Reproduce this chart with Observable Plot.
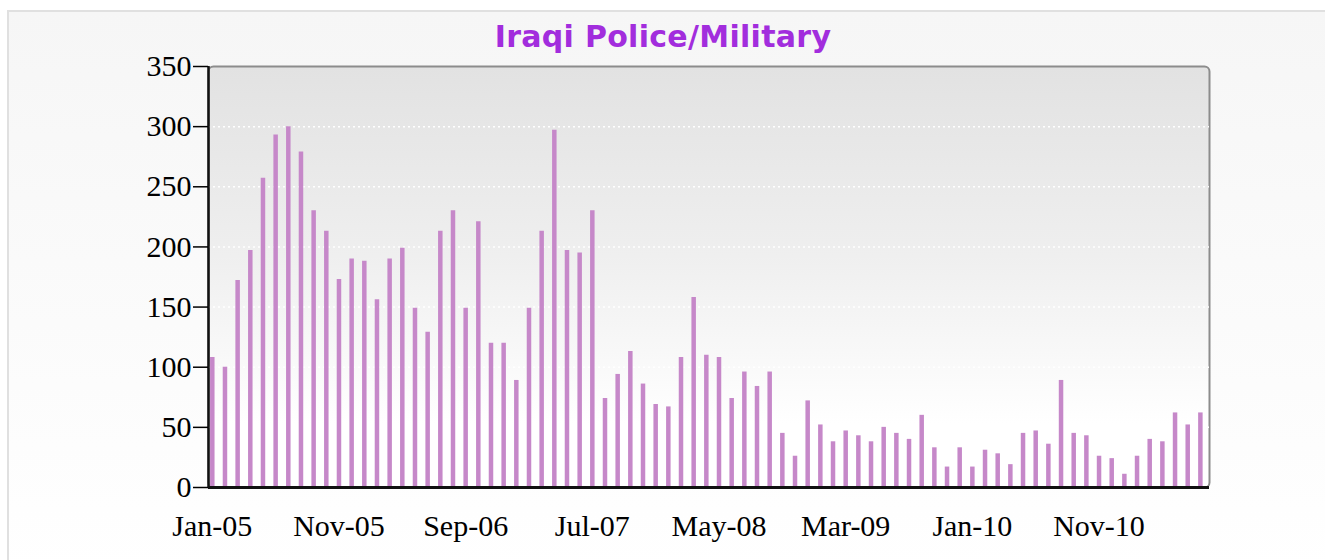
<!DOCTYPE html>
<html>
<head>
<meta charset="utf-8">
<script src="https://cdn.jsdelivr.net/npm/d3@7"></script>
<script src="https://cdn.jsdelivr.net/npm/@observablehq/plot@0.6"></script>
<style>
  html, body { margin: 0; padding: 0; background: #ffffff; }
  #wrap { position: relative; width: 1325px; height: 560px; overflow: hidden; }
  #panel { position: absolute; left: 7px; top: 10px; width: 1330px; height: 560px;
           border-left: 2px solid #e0e0e0; border-top: 2px solid #e0e0e0;
           background: linear-gradient(#f6f6f6, #ffffff); }
  #title { position: absolute; left: 0; width: 1326px; top: 19px; text-align: center;
           font-family: "DejaVu Sans", Verdana, sans-serif; font-weight: bold; font-size: 30px;
           letter-spacing: 0.3px; color: #a22ddd; }
  #chart { position: absolute; left: 0; top: 0; }
</style>
</head>
<body>
<div id="wrap">
  <div id="panel"></div>
  <div id="title">Iraqi Police/Military</div>
  <div id="chart"></div>
</div>
<script>
const months = [
  "Jan-05","Feb-05","Mar-05","Apr-05","May-05","Jun-05","Jul-05","Aug-05","Sep-05","Oct-05","Nov-05","Dec-05",
  "Jan-06","Feb-06","Mar-06","Apr-06","May-06","Jun-06","Jul-06","Aug-06","Sep-06","Oct-06","Nov-06","Dec-06",
  "Jan-07","Feb-07","Mar-07","Apr-07","May-07","Jun-07","Jul-07","Aug-07","Sep-07","Oct-07","Nov-07","Dec-07",
  "Jan-08","Feb-08","Mar-08","Apr-08","May-08","Jun-08","Jul-08","Aug-08","Sep-08","Oct-08","Nov-08","Dec-08",
  "Jan-09","Feb-09","Mar-09","Apr-09","May-09","Jun-09","Jul-09","Aug-09","Sep-09","Oct-09","Nov-09","Dec-09",
  "Jan-10","Feb-10","Mar-10","Apr-10","May-10","Jun-10","Jul-10","Aug-10","Sep-10","Oct-10","Nov-10","Dec-10",
  "Jan-11","Feb-11","Mar-11","Apr-11","May-11","Jun-11","Jul-11"
];
const deaths = [
  108,100,172,197,257,293,300,279,230,213,173,190,
  188,156,190,199,149,129,213,230,149,221,120,120,
  89,149,213,297,197,195,230,74,94,113,86,69,
  67,108,158,110,108,74,96,84,96,45,26,72,
  52,38,47,43,38,50,45,40,60,33,17,33,
  17,31,28,19,45,47,36,89,45,43,26,24,
  11,26,40,38,62,52,62
];
const xTickLabels = ["Jan-05","Nov-05","Sep-06","Jul-07","May-08","Mar-09","Jan-10","Nov-10"];
const yTicks = [0,50,100,150,200,250,300,350];
const gridValues = [50,100,150,200,250,300];

const data = months.map((m, i) => ({i, month: m, value: deaths[i]}));
const xDomain = [-0.3, months.length - 0.28];
const xTicks = xTickLabels.map(l => months.indexOf(l));

const chart = Plot.plot({
  width: 1325,
  height: 560,
  marginLeft: 208,
  marginRight: 116,
  marginTop: 66,
  marginBottom: 73,
  style: {background: "transparent", fontFamily: "'Liberation Serif', 'Times New Roman', serif", fontSize: "30px", color: "black", overflow: "visible"},
  x: {type: "linear", domain: xDomain},
  y: {domain: [0, 350]},
  marks: [
    Plot.frame({fill: "url(#plotbg)", stroke: "#8c8c8c", strokeWidth: 2, rx: 5}),
    Plot.ruleY(gridValues, {stroke: "#ffffff", strokeWidth: 1.5, strokeDasharray: "2,3"}),
    Plot.ruleX(data, {x: "i", y1: 0, y2: "value", stroke: "#c688c9", strokeWidth: 4.5}),
    Plot.ruleX([xDomain[0]], {stroke: "#111", strokeWidth: 2.5}),
    Plot.ruleY([0], {stroke: "#111", strokeWidth: 3}),
    Plot.axisY({ticks: yTicks, tickSize: 15, tickPadding: 2, strokeWidth: 1.5, fontSize: 30, label: null, tickFormat: d => String(d)}),
    Plot.axisX({ticks: xTicks, tickSize: 0, tickPadding: 27, fontSize: 30, label: null, tickFormat: i => months[i]})
  ]
});

const defs = d3.create("svg:defs");
const grad = defs.append("linearGradient").attr("id", "plotbg")
  .attr("x1", 0).attr("y1", 0).attr("x2", 0).attr("y2", 1);
grad.append("stop").attr("offset", "0%").attr("stop-color", "#e2e2e2");
grad.append("stop").attr("offset", "45%").attr("stop-color", "#efefef");
grad.append("stop").attr("offset", "85%").attr("stop-color", "#ffffff");
chart.insertBefore(defs.node(), chart.firstChild);

document.getElementById("chart").appendChild(chart);
</script>
</body>
</html>
